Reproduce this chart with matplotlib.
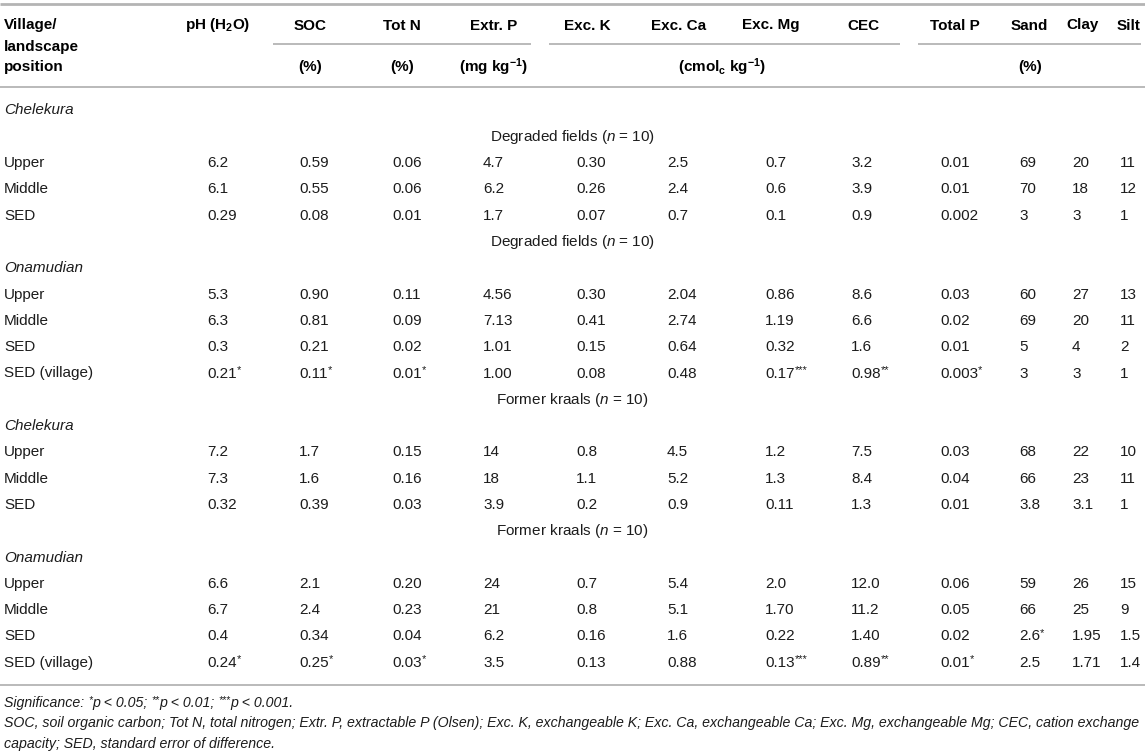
import matplotlib
matplotlib.use("Agg")
import matplotlib.pyplot as plt
from matplotlib.font_manager import FontProperties

plt.rcParams['font.family'] = ['Liberation Sans', 'DejaVu Sans']
plt.rcParams['mathtext.fontset'] = 'custom'
plt.rcParams['mathtext.rm'] = 'Liberation Sans'
plt.rcParams['mathtext.it'] = 'Liberation Sans:italic'
plt.rcParams['mathtext.bf'] = 'Liberation Sans:bold'

# ---------------- data ----------------
headers = ["pH (H$_\\mathbf{2}$O)", "SOC", "Tot N", "Extr. P", "Exc. K", "Exc. Ca",
           "Exc. Mg", "CEC", "Total P", "Sand", "Clay", "Silt"]
first_header = ["Village/", "landscape", "position"]
unit_labels = ["(%)", "(%)", "(mg kg$^{\\mathbf{-1}}$)", "(cmol$_\\mathbf{c}$ kg$^{\\mathbf{-1}}$)", "(%)"]

# row structure: ('village', name) / ('group', name) / ('data', label)
rows = [
    ("village", "Chelekura"), ("group", "Degraded fields"),
    ("data", "Upper"), ("data", "Middle"), ("data", "SED"),
    ("group", "Degraded fields"), ("village", "Onamudian"),
    ("data", "Upper"), ("data", "Middle"), ("data", "SED"), ("data", "SED (village)"),
    ("group", "Former kraals"), ("village", "Chelekura"),
    ("data", "Upper"), ("data", "Middle"), ("data", "SED"),
    ("group", "Former kraals"), ("village", "Onamudian"),
    ("data", "Upper"), ("data", "Middle"), ("data", "SED"), ("data", "SED (village)"),
]
group_n = 10

ph    = ["6.2", "6.1", "0.29", "5.3", "6.3", "0.3", "0.21*", "7.2", "7.3", "0.32", "6.6", "6.7", "0.4", "0.24*"]
soc   = ["0.59", "0.55", "0.08", "0.90", "0.81", "0.21", "0.11*", "1.7", "1.6", "0.39", "2.1", "2.4", "0.34", "0.25*"]
totn  = ["0.06", "0.06", "0.01", "0.11", "0.09", "0.02", "0.01*", "0.15", "0.16", "0.03", "0.20", "0.23", "0.04", "0.03*"]
extrp = ["4.7", "6.2", "1.7", "4.56", "7.13", "1.01", "1.00", "14", "18", "3.9", "24", "21", "6.2", "3.5"]
exck  = ["0.30", "0.26", "0.07", "0.30", "0.41", "0.15", "0.08", "0.8", "1.1", "0.2", "0.7", "0.8", "0.16", "0.13"]
excca = ["2.5", "2.4", "0.7", "2.04", "2.74", "0.64", "0.48", "4.5", "5.2", "0.9", "5.4", "5.1", "1.6", "0.88"]
excmg = ["0.7", "0.6", "0.1", "0.86", "1.19", "0.32", "0.17***", "1.2", "1.3", "0.11", "2.0", "1.70", "0.22", "0.13***"]
cec   = ["3.2", "3.9", "0.9", "8.6", "6.6", "1.6", "0.98**", "7.5", "8.4", "1.3", "12.0", "11.2", "1.40", "0.89**"]
totp  = ["0.01", "0.01", "0.002", "0.03", "0.02", "0.01", "0.003*", "0.03", "0.04", "0.01", "0.06", "0.05", "0.02", "0.01*"]
sand  = ["69", "70", "3", "60", "69", "5", "3", "68", "66", "3.8", "59", "66", "2.6*", "2.5"]
clay  = ["20", "18", "3", "27", "20", "4", "3", "22", "23", "3.1", "26", "25", "1.95", "1.71"]
silt  = ["11", "12", "1", "13", "11", "2", "1", "10", "11", "1", "15", "9", "1.5", "1.4"]
columns = [ph, soc, totn, extrp, exck, excca, excmg, cec, totp, sand, clay, silt]

footnote1 = [("Significance: ", False), ("*", True), ("p < 0.05; ", False), ("**", True),
             ("p < 0.01; ", False), ("***", True), ("p < 0.001.", False)]
footnote2 = ("SOC, soil organic carbon; Tot N, total nitrogen; Extr. P, extractable P (Olsen); "
             "Exc. K, exchangeable K; Exc. Ca, exchangeable Ca; Exc. Mg, exchangeable Mg; "
             "CEC, cation exchange")
footnote3 = "capacity; SED, standard error of difference."

# ---------------- layout ----------------
W, H = 1145, 754
fig = plt.figure(figsize=(W / 100, H / 100), dpi=100)
ax = fig.add_axes([0, 0, 1, 1])
ax.set_xlim(0, W)
ax.set_ylim(H, 0)
ax.axis("off")
fig.canvas.draw()
R = fig.canvas.get_renderer()

FS = 11
txt_col = "#1c1c1c"
line_col = "#b4b4b4"
base_off = 5.5  # centre -> baseline offset in px

label_x = 4
header_cx = [218, 310, 402, 494, 587, 679, 771, 863, 955, 1029, 1083, 1129]
unit_cx = [310, 402, 494, 722, 1030]
value_x = [207, 299, 392, 483, 576, 667, 765, 851, 940, 1019, 1072, 1120]


def text_w(s, size, style="normal"):
    fp = FontProperties(family=['Liberation Sans'], size=size, style=style)
    w, h, d = R.get_text_width_height_descent(s, fp, ismath=False)
    return w  # pixels at dpi 100 == data units here


def draw_runs(x, y, runs, size, style="normal", color=txt_col):
    for s, sup in runs:
        sz = size * 0.72 if sup else size
        yy = y - size * 0.42 if sup else y
        ax.text(x, yy, s, fontsize=sz, style=style, color=color, va="baseline", ha="left")
        x += text_w(s, sz, style)


def split_stars(v):
    core = v.rstrip("*")
    stars = v[len(core):]
    runs = [(core, False)]
    if stars:
        runs.append((stars, True))
    return runs


# lines
ax.plot([0, W], [4, 4], color=line_col, lw=2.0, solid_capstyle="butt")
ax.plot([0, W], [87, 87], color=line_col, lw=1.3, solid_capstyle="butt")
for x0, x1 in [(273, 531), (549, 900), (918, 1141)]:
    ax.plot([x0, x1], [44, 44], color=line_col, lw=1.3, solid_capstyle="butt")
ax.plot([0, W], [685, 685], color=line_col, lw=1.3, solid_capstyle="butt")

# header
hy = [24, 45, 66]
for t, y in zip(first_header, hy):
    ax.text(label_x, y + base_off, t, fontsize=FS, fontweight="bold", color="black", va="baseline")
for t, cx in zip(headers, header_cx):
    ax.text(cx, hy[0] + base_off, t, fontsize=FS, fontweight="bold", color="black",
            va="baseline", ha="center")
for t, cx in zip(unit_labels, unit_cx):
    ax.text(cx, hy[2] + base_off, t, fontsize=FS, fontweight="bold", color="black",
            va="baseline", ha="center")

# body
y0, dy = 109, 26.3
di = 0
for i, (kind, name) in enumerate(rows):
    y = y0 + dy * i + base_off
    if kind == "village":
        ax.text(label_x, y, name, fontsize=FS, style="italic", color=txt_col, va="baseline")
    elif kind == "group":
        ax.text(W / 2, y, name + " ($n$ = %d)" % group_n, fontsize=FS, color=txt_col,
                va="baseline", ha="center")
    else:
        ax.text(label_x, y, name, fontsize=FS, color=txt_col, va="baseline")
        for col, x in zip(columns, value_x):
            draw_runs(x, y, split_stars(col[di]), FS)
        di += 1

# footnotes, sized so the long line fills the width
ffs = 10 * 1136 / text_w(footnote2, 10, "italic")
fb = base_off * ffs / FS
draw_runs(label_x, 702 + fb, footnote1, ffs, style="italic")
ax.text(label_x, 722 + fb, footnote2, fontsize=ffs, style="italic", color=txt_col, va="baseline")
ax.text(label_x, 743 + fb, footnote3, fontsize=ffs, style="italic", color=txt_col, va="baseline")

fig.savefig("out.png", dpi=100)
